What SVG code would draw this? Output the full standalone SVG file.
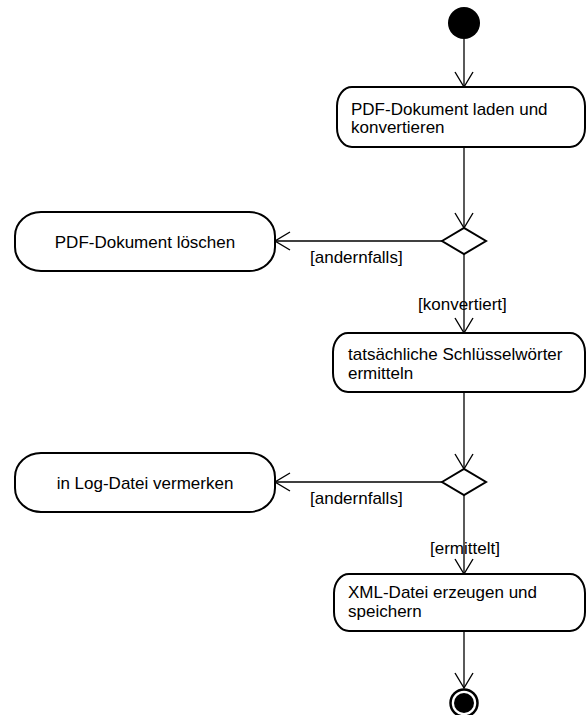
<svg xmlns="http://www.w3.org/2000/svg" width="586" height="715" viewBox="0 0 586 715">
<style>
.node{fill:#fff;stroke:#000;stroke-width:2}
.t{font-family:"Liberation Sans",Arial,sans-serif;font-size:17px;fill:#000}
.c{text-anchor:middle}
.conn{stroke:#000;stroke-width:1.3;fill:none}
</style>
<defs>
<marker id="arr" viewBox="-17 -11 19 22" refX="0" refY="0" markerWidth="19" markerHeight="22" markerUnits="userSpaceOnUse" orient="auto">
<path d="M-15,-9 L0,0 L-15,9" fill="none" stroke="#000" stroke-width="1.4"/>
</marker>
</defs>
<rect width="586" height="715" fill="#fff"/>
<g id="connectors">
<line class="conn" x1="464" y1="39" x2="464" y2="87" marker-end="url(#arr)"/>
<line class="conn" x1="464" y1="147" x2="464" y2="228" marker-end="url(#arr)"/>
<line class="conn" x1="442" y1="241" x2="275" y2="241" marker-end="url(#arr)"/>
<text class="t" x="310" y="263">[andernfalls]</text>
<line class="conn" x1="464" y1="254" x2="464" y2="333" marker-end="url(#arr)"/>
<text class="t" x="418" y="310">[konvertiert]</text>
<line class="conn" x1="464" y1="392" x2="464" y2="469" marker-end="url(#arr)"/>
<line class="conn" x1="442" y1="482" x2="275" y2="482" marker-end="url(#arr)"/>
<text class="t" x="310" y="504">[andernfalls]</text>
<line class="conn" x1="464" y1="495" x2="464" y2="574" marker-end="url(#arr)"/>
<text class="t" x="430" y="554">[ermittelt]</text>
<line class="conn" x1="464" y1="631" x2="464" y2="688" marker-end="url(#arr)"/>
</g>
<g id="start">
<circle cx="464" cy="23" r="16" fill="#000"/>
</g>
<g id="n1">
<rect class="node" x="337" y="87" width="248" height="60" rx="15" ry="19"/>
<text class="t" x="351" y="115">PDF-Dokument laden und</text>
<text class="t" x="351" y="133">konvertieren</text>
</g>
<g id="d1">
<polygon points="442,241 464,228 486,241 464,254" fill="#fff" stroke="#000" stroke-width="2"/>
</g>
<g id="n2">
<rect class="node" x="15" y="212" width="260" height="59" rx="26" ry="24"/>
<text class="t c" x="145" y="248">PDF-Dokument löschen</text>
</g>
<g id="n3">
<rect class="node" x="333" y="333" width="252" height="59" rx="15" ry="19"/>
<text class="t" x="348" y="360">tatsächliche Schlüsselwörter</text>
<text class="t" x="348" y="379">ermitteln</text>
</g>
<g id="d2">
<polygon points="442,482 464,469 486,482 464,495" fill="#fff" stroke="#000" stroke-width="2"/>
</g>
<g id="n4">
<rect class="node" x="15" y="453" width="260" height="59" rx="26" ry="24"/>
<text class="t c" x="145" y="489">in Log-Datei vermerken</text>
</g>
<g id="n5">
<rect class="node" x="334" y="574" width="251" height="57" rx="15" ry="19"/>
<text class="t" x="348" y="598">XML-Datei erzeugen und</text>
<text class="t" x="348" y="617">speichern</text>
</g>
<g id="end">
<circle cx="464" cy="703" r="13.5" fill="#fff" stroke="#000" stroke-width="2.5"/>
<circle cx="464" cy="703" r="10" fill="#000"/>
</g>
</svg>
